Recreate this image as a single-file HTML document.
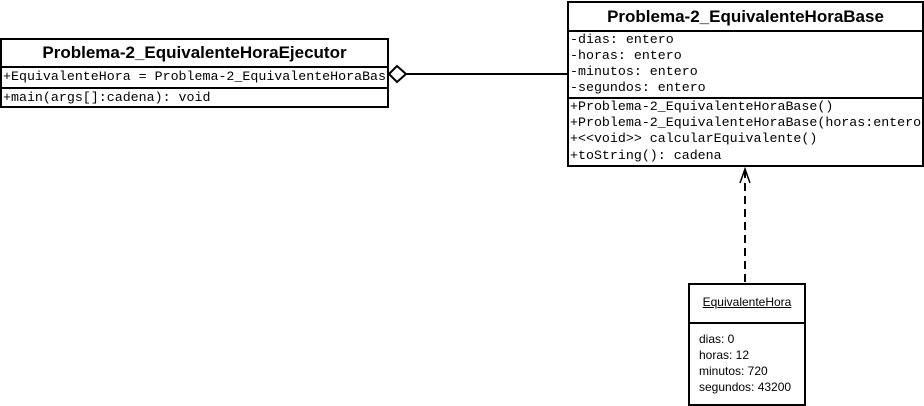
<!DOCTYPE html>
<html><head><meta charset="utf-8"><style>
body{margin:0;width:924px;height:406px;background:#fff;position:relative;overflow:hidden}
.box{position:absolute;border:2px solid #000;box-sizing:border-box;background:#fff}
.t{font:bold 17px "Liberation Sans",sans-serif;text-align:center}
.m{font:13.3px "Liberation Mono",monospace;white-space:nowrap;position:absolute;left:1px}
.sep{position:absolute;left:0;right:0;border-top:2px solid #000}
.s{font:12px "Liberation Sans",sans-serif;position:absolute;left:9px}
</style></head><body>
<div class="box" style="left:0;top:38px;width:389px;height:70px;overflow:hidden">
 <div class="t" style="position:absolute;left:0;right:0;top:3px">Problema-2_EquivalenteHoraEjecutor</div>
 <div class="sep" style="top:26px"></div>
 <div class="m" style="top:29px">+EquivalenteHora = Problema-2_EquivalenteHoraBase</div>
 <div class="sep" style="top:47px"></div>
 <div class="m" style="top:50px">+main(args[]:cadena): void</div>
</div>
<div class="box" style="left:567px;top:1px;width:357px;height:166px;overflow:hidden">
 <div class="t" style="position:absolute;left:0;right:0;top:4px">Problema-2_EquivalenteHoraBase</div>
 <div class="sep" style="top:27px"></div>
 <div class="m" style="top:29px">-dias: entero</div>
 <div class="m" style="top:45px">-horas: entero</div>
 <div class="m" style="top:61px">-minutos: entero</div>
 <div class="m" style="top:77px">-segundos: entero</div>
 <div class="sep" style="top:94px"></div>
 <div class="m" style="top:96px">+Problema-2_EquivalenteHoraBase()</div>
 <div class="m" style="top:112px">+Problema-2_EquivalenteHoraBase(horas:entero)</div>
 <div class="m" style="top:128px">+&lt;&lt;void&gt;&gt; calcularEquivalente()</div>
 <div class="m" style="top:145px">+toString(): cadena</div>
</div>
<div class="box" style="left:688px;top:283px;width:118px;height:123px">
 <div style="position:absolute;left:0;right:0;top:10px;text-align:center;font:12px 'Liberation Sans',sans-serif;text-decoration:underline">EquivalenteHora</div>
 <div class="sep" style="top:37px"></div>
 <div class="s" style="top:47px">dias: 0</div>
 <div class="s" style="top:63px">horas: 12</div>
 <div class="s" style="top:79px">minutos: 720</div>
 <div class="s" style="top:95px">segundos: 43200</div>
</div>
<svg width="924" height="406" style="position:absolute;left:0;top:0">
 <line x1="406" y1="74" x2="567" y2="74" stroke="#000" stroke-width="2"/>
 <polygon points="389,74 397,66 406,74 397,82" fill="#fff" stroke="#000" stroke-width="2"/>
 <line x1="745" y1="170" x2="745" y2="283" stroke="#000" stroke-width="2" stroke-dasharray="8,5"/>
 <polyline points="740,183 745,169 750,183" fill="none" stroke="#000" stroke-width="1.5"/>
</svg>
</body></html>
